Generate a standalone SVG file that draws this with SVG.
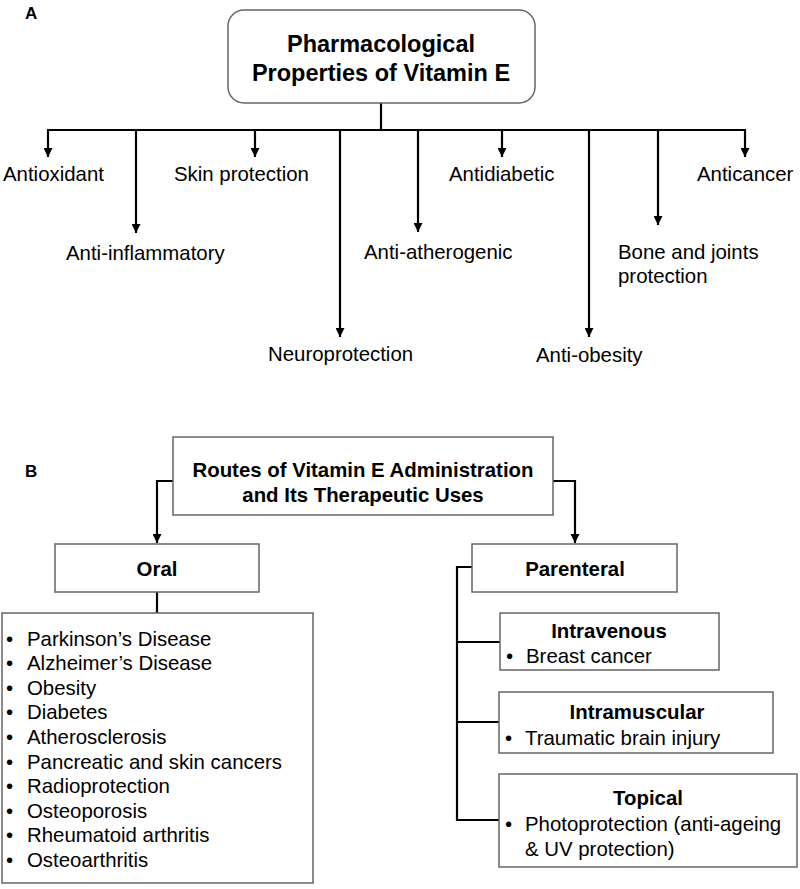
<svg xmlns="http://www.w3.org/2000/svg" width="800" height="889" viewBox="0 0 800 889">
<defs>
<marker id="ah" viewBox="0 0 10 10" refX="10" refY="5" markerWidth="9" markerHeight="9" markerUnits="userSpaceOnUse" orient="auto">
<path d="M0,0 L10,5 L0,10 z" fill="#000"/>
</marker>
<style>
text{font-family:"Liberation Sans",Arial,sans-serif;fill:#000}
.lab{font-size:20.4px}
.b{font-weight:bold}
.box{fill:#fff;stroke:#666;stroke-width:1.5}
.con{fill:none;stroke:#000;stroke-width:2.2}
.arr{fill:none;stroke:#000;stroke-width:2.2;marker-end:url(#ah)}
.mid{text-anchor:middle}
</style>
</defs>
<rect width="800" height="889" fill="#fff"/>
<text x="25" y="19" class="b" style="font-size:17px">A</text>
<text x="25" y="477" class="b" style="font-size:17px">B</text>

<g id="connectors">
<path class="con" d="M381,103 V130 M47,130 H746"/>
<path class="arr" d="M48,130 V157"/>
<path class="arr" d="M136,130 V233"/>
<path class="arr" d="M255,130 V157"/>
<path class="arr" d="M340,130 V337"/>
<path class="arr" d="M418,130 V232"/>
<path class="arr" d="M502,130 V157"/>
<path class="arr" d="M589,130 V337"/>
<path class="arr" d="M658,130 V225"/>
<path class="arr" d="M745,130 V157"/>
<path class="arr" d="M173,481 H157 V543"/>
<path class="arr" d="M553,481 H575 V543"/>
<path class="con" d="M157,592 V613"/>
<path class="con" d="M472,567 H457 V820 H499 M457,642 H500 M457,722 H499"/>
</g>

<g id="title">
<rect class="box" x="228" y="10" width="307" height="93" rx="16"/>
<text x="381" y="52" class="b mid" style="font-size:23.5px">Pharmacological</text>
<text x="381" y="81" class="b mid" style="font-size:23.5px">Properties of Vitamin E</text>
</g>
<g id="antioxidant"><text x="3" y="181" class="lab">Antioxidant</text></g>
<g id="anti-inflammatory"><text x="66" y="260" class="lab">Anti-inflammatory</text></g>
<g id="skin"><text x="174" y="181" class="lab">Skin protection</text></g>
<g id="neuro"><text x="268" y="361" class="lab">Neuroprotection</text></g>
<g id="athero"><text x="364" y="259" class="lab">Anti-atherogenic</text></g>
<g id="diabetic"><text x="449" y="181" class="lab">Antidiabetic</text></g>
<g id="obesity"><text x="536" y="362" class="lab">Anti-obesity</text></g>
<g id="bone"><text x="618" y="259" class="lab">Bone and joints</text><text x="618" y="283" class="lab">protection</text></g>
<g id="cancer"><text x="697" y="181" class="lab">Anticancer</text></g>

<g id="routes">
<rect class="box" x="173" y="437" width="380" height="78"/>
<text x="363" y="477" class="lab b mid">Routes of Vitamin E Administration</text>
<text x="363" y="502" class="lab b mid">and Its Therapeutic Uses</text>
</g>
<g id="oral">
<rect class="box" x="55" y="544" width="204" height="48"/>
<text x="157" y="576" class="lab b mid">Oral</text>
</g>
<g id="parenteral">
<rect class="box" x="472" y="544" width="205" height="48"/>
<text x="575" y="576" class="lab b mid">Parenteral</text>
</g>
<g id="oral-list">
<rect class="box" x="2" y="613" width="311" height="270"/>
<g class="lab">
<text x="6" y="646">•</text><text x="27" y="646">Parkinson’s Disease</text>
<text x="6" y="670">•</text><text x="27" y="670">Alzheimer’s Disease</text>
<text x="6" y="695">•</text><text x="27" y="695">Obesity</text>
<text x="6" y="719">•</text><text x="27" y="719">Diabetes</text>
<text x="6" y="744">•</text><text x="27" y="744">Atherosclerosis</text>
<text x="6" y="769">•</text><text x="27" y="769">Pancreatic and skin cancers</text>
<text x="6" y="793">•</text><text x="27" y="793">Radioprotection</text>
<text x="6" y="818">•</text><text x="27" y="818">Osteoporosis</text>
<text x="6" y="842">•</text><text x="27" y="842">Rheumatoid arthritis</text>
<text x="6" y="867">•</text><text x="27" y="867">Osteoarthritis</text>
</g>
</g>
<g id="intravenous">
<rect class="box" x="500" y="613" width="219" height="57"/>
<text x="609" y="638" class="lab b mid">Intravenous</text>
<text x="506" y="663" class="lab">•</text><text x="526" y="663" class="lab">Breast cancer</text>
</g>
<g id="intramuscular">
<rect class="box" x="499" y="692" width="274" height="61"/>
<text x="637" y="719" class="lab b mid">Intramuscular</text>
<text x="505" y="745" class="lab">•</text><text x="525" y="745" class="lab">Traumatic brain injury</text>
</g>
<g id="topical">
<rect class="box" x="499" y="774" width="298" height="93"/>
<text x="648" y="805" class="lab b mid">Topical</text>
<text x="505" y="831" class="lab">•</text><text x="525" y="831" class="lab">Photoprotection (anti-ageing</text>
<text x="525" y="856" class="lab">&amp; UV protection)</text>
</g>
</svg>
